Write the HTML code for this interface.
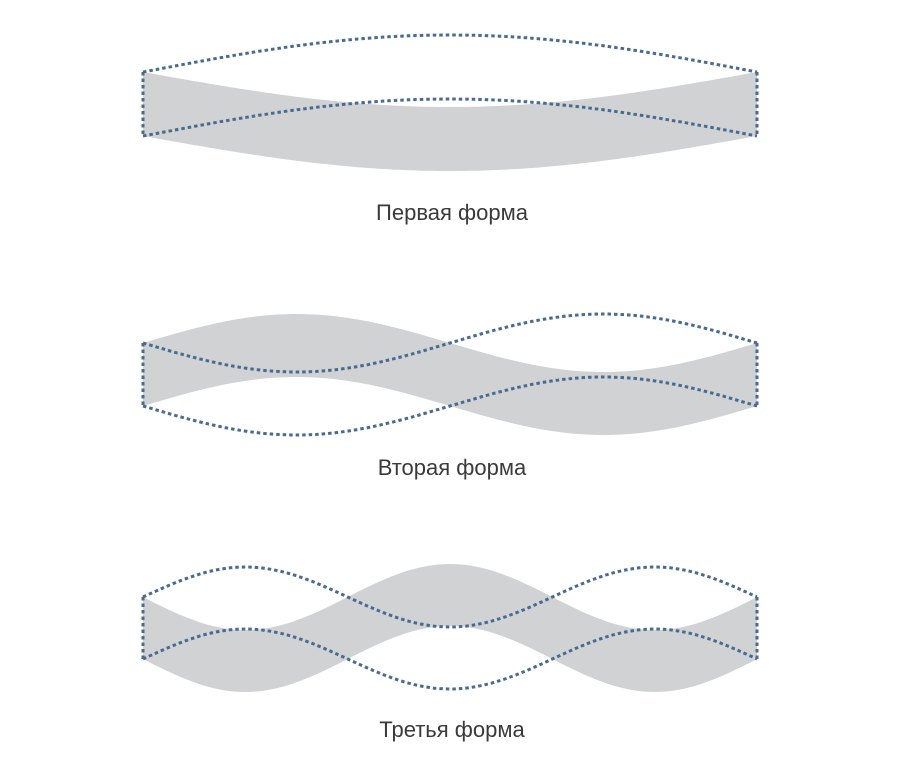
<!DOCTYPE html>
<html><head><meta charset="utf-8"><style>
html,body{margin:0;padding:0;background:#fff;}
svg{display:block}
text{font-family:"Liberation Sans","DejaVu Sans",sans-serif;font-size:22px;fill:#3a3a3a;text-anchor:middle}
</style></head><body>
<svg id="s" width="900" height="780" viewBox="0 0 900 780">
<g id="g"></g>
<text x="452" y="220">Первая форма</text>
<text x="452" y="475">Вторая форма</text>
<text x="452" y="737">Третья форма</text>
</svg>
<script>
const g=document.getElementById('g');const NS='http://www.w3.org/2000/svg';
const X0=143,X1=757;
function pts(y0,a,k,n){let p=[];for(let i=0;i<=n;i++){let t=i/n;p.push([X0+t*(X1-X0),y0+a*Math.sin(k*Math.PI*t)]);}return p;}
function str(p){return p.map(q=>q[0].toFixed(1)+','+q[1].toFixed(1)).join(' ');}
function shape(yt,yb,k,ad,ag){
 const n=120;
 const gt=pts(yt,ag,k,n),gb=pts(yb,ag,k,n).reverse();
 let poly=document.createElementNS(NS,'polygon');poly.setAttribute('points',str(gt.concat(gb)));poly.setAttribute('fill','#d1d2d4');g.appendChild(poly);
 const dash=(p)=>{let l=document.createElementNS(NS,'polyline');l.setAttribute('points',str(p));l.setAttribute('fill','none');l.setAttribute('stroke','#4a6b91');l.setAttribute('stroke-width','3');l.setAttribute('stroke-dasharray','3.5 3');g.appendChild(l);};
 dash(pts(yt,ad,k,n));dash(pts(yb,ad,k,n));
 dash([[X0,yt],[X0,yb]]);dash([[X1,yt],[X1,yb]]);
}
shape(72,136,1,-37,35);
shape(343,406,2,29,-29);
shape(597,659,3,-30,33);
</script>
</body></html>
